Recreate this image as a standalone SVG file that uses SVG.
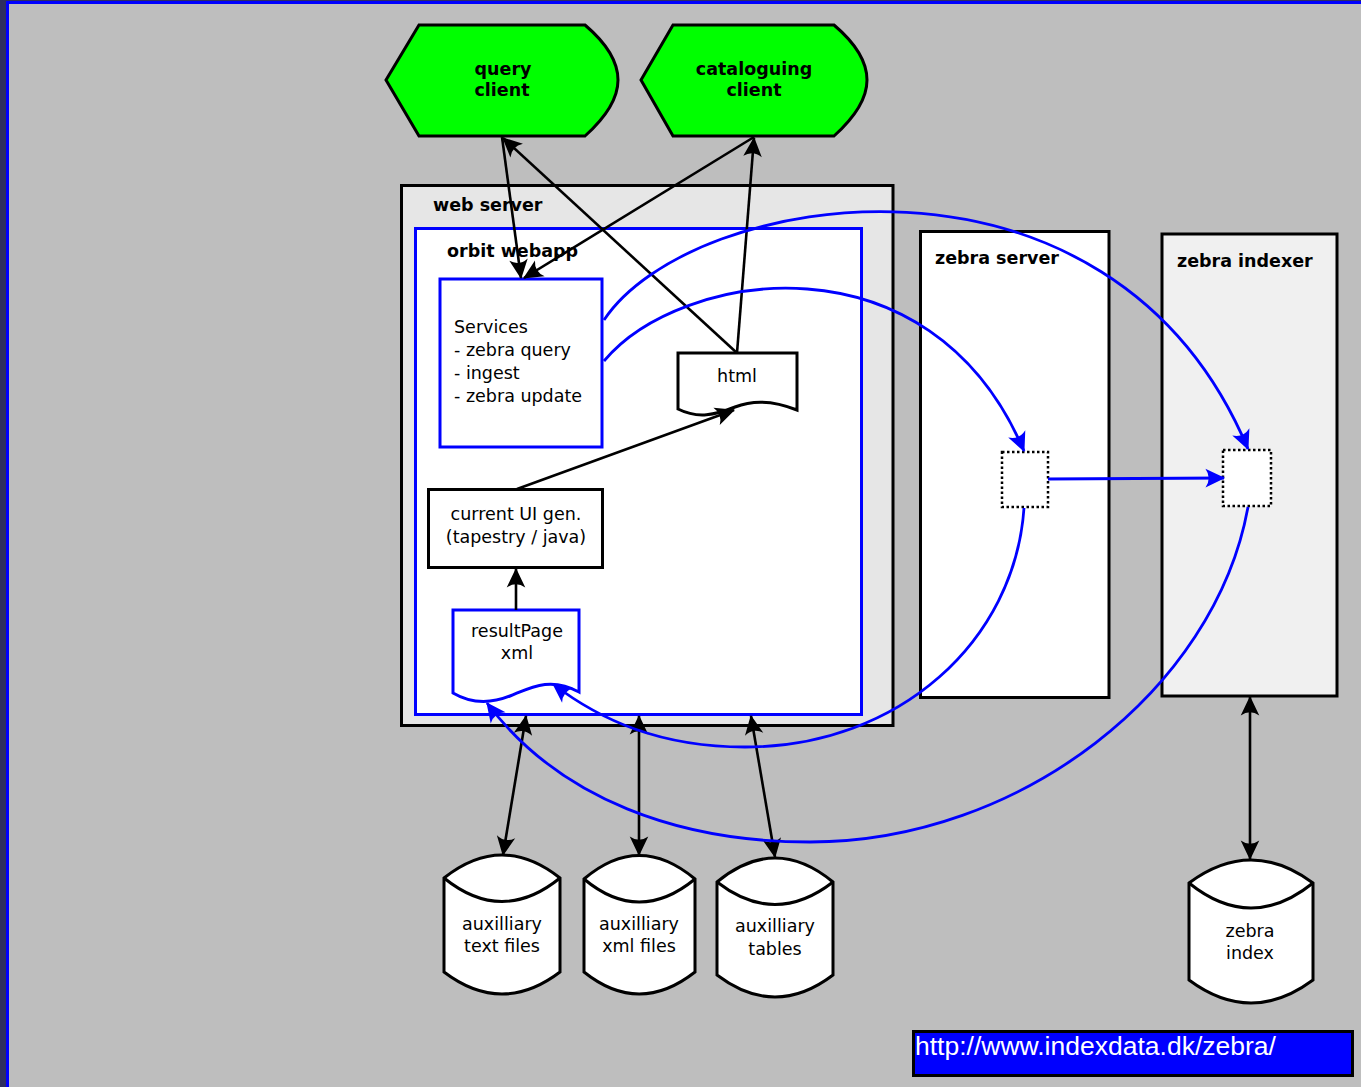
<svg xmlns="http://www.w3.org/2000/svg" width="1361" height="1087" viewBox="0 0 1361 1087">
<defs>
<style>
.lbl{font-family:"DejaVu Sans","Liberation Sans",sans-serif;font-size:17.5px;fill:#000}
.b{font-weight:bold}
.c{text-anchor:middle}
.box{stroke:#000;stroke-width:3}
.blu{stroke:#0000ff;stroke-width:3}
.k{fill:none;stroke:#000;stroke-width:2.6}
.bl{fill:none;stroke:#0000ff;stroke-width:2.8}
.dot{fill:#fff;stroke:#000;stroke-width:2.5;stroke-dasharray:2.5,2.5}
.cyl{fill:#fff;stroke:#000;stroke-width:3}
</style>
<marker id="ak" markerUnits="userSpaceOnUse" markerWidth="24" markerHeight="24" viewBox="-20 -10 22 20" refX="0" refY="0" orient="auto-start-reverse" overflow="visible">
<path d="M1,0 L-17,-8.5 Q-11,0 -17,8.5 Z" fill="#000"/>
</marker>
<marker id="ab" markerUnits="userSpaceOnUse" markerWidth="24" markerHeight="24" viewBox="-20 -10 22 20" refX="0" refY="0" orient="auto-start-reverse" overflow="visible">
<path d="M1,0 L-17,-8.5 Q-11,0 -17,8.5 Z" fill="#0000ff"/>
</marker>
</defs>

<g id="background">
<rect x="0" y="0" width="1361" height="1087" fill="#2e2e60"/>
<rect x="6" y="1" width="1355" height="1086" fill="#0000ff"/>
<rect x="9" y="4" width="1352" height="1083" fill="#bebebe"/>
</g>

<g id="web-server">
<rect class="box" x="401.5" y="185.5" width="491.5" height="540" fill="#e6e6e6"/>
<text class="lbl b" x="433" y="211">web server</text>
</g>

<g id="orbit-webapp">
<rect class="blu" x="415.5" y="228.5" width="446" height="486" fill="#fff"/>
<text class="lbl b" x="447" y="257">orbit webapp</text>
</g>

<g id="zebra-server">
<rect class="box" x="920.5" y="231.5" width="188.5" height="466" fill="#fff"/>
<text class="lbl b" x="935" y="264">zebra server</text>
</g>

<g id="zebra-indexer">
<rect class="box" x="1162" y="234" width="175" height="462" fill="#f0f0f0"/>
<text class="lbl b" x="1177" y="267">zebra indexer</text>
</g>

<g id="query-client">
<path class="box" fill="#00ff00" d="M419,25 H585 C605,42 618,60 618,80 C618,100 605,118 585,136 H419 L386,80 Z"/>
<text class="lbl b c" x="503" y="75">query</text>
<text class="lbl b c" x="502" y="96">client</text>
</g>

<g id="cataloguing-client">
<path class="box" fill="#00ff00" d="M673,25 H834 C854,42 867,60 867,80 C867,100 854,118 834,136 H673 L641,80 Z"/>
<text class="lbl b c" x="754" y="75">cataloguing</text>
<text class="lbl b c" x="754" y="96">client</text>
</g>

<g id="services">
<rect class="blu" x="440" y="279" width="162" height="168" fill="#fff"/>
<text class="lbl" x="454" y="333">Services</text>
<text class="lbl" x="454" y="356">- zebra query</text>
<text class="lbl" x="454" y="379">- ingest</text>
<text class="lbl" x="454" y="402">- zebra update</text>
</g>

<g id="html">
<path class="box" fill="#fff" d="M678,353 H797 V410 C775,401 755,399 735,407 C715,415 698,419 678,409 Z"/>
<text class="lbl c" x="737" y="382">html</text>
</g>

<g id="current-ui-gen">
<rect class="box" x="428.5" y="489.5" width="174" height="78" fill="#fff"/>
<text class="lbl c" x="516" y="520">current UI gen.</text>
<text class="lbl c" x="516" y="543">(tapestry / java)</text>
</g>

<g id="resultpage-xml">
<path class="blu" fill="#fff" d="M453,610 H579 V692 C550,676 530,688 510,696 C490,704 470,703 453,693 Z"/>
<text class="lbl c" x="517" y="637">resultPage</text>
<text class="lbl c" x="517" y="659">xml</text>
</g>

<g id="zebra-server-port">
<rect class="dot" x="1002" y="452" width="46" height="55"/>
</g>

<g id="zebra-indexer-port">
<rect class="dot" x="1223" y="450" width="48" height="56"/>
</g>

<g id="aux-text-files">
<path class="cyl" d="M444,878 Q502,832 560,878 V972 Q502,1016 444,972 Z"/>
<path class="cyl" fill="none" d="M444,878 Q502,925 560,878"/>
<text class="lbl c" x="502" y="930">auxilliary</text>
<text class="lbl c" x="502" y="952">text files</text>
</g>

<g id="aux-xml-files">
<path class="cyl" d="M584,879 Q639,832 695,879 V972 Q639,1016 584,972 Z"/>
<path class="cyl" fill="none" d="M584,879 Q639,925 695,879"/>
<text class="lbl c" x="639" y="930">auxilliary</text>
<text class="lbl c" x="639" y="952">xml files</text>
</g>

<g id="aux-tables">
<path class="cyl" d="M717,882 Q775,834 833,882 V975 Q775,1019 717,975 Z"/>
<path class="cyl" fill="none" d="M717,882 Q775,927 833,882"/>
<text class="lbl c" x="775" y="932">auxilliary</text>
<text class="lbl c" x="775" y="955">tables</text>
</g>

<g id="zebra-index">
<path class="cyl" d="M1189,883 Q1251,837 1313,883 V980 Q1251,1026 1189,980 Z"/>
<path class="cyl" fill="none" d="M1189,883 Q1251,933 1313,883"/>
<text class="lbl c" x="1250" y="937">zebra</text>
<text class="lbl c" x="1250" y="959">index</text>
</g>

<g id="link">
<rect x="913.5" y="1031.5" width="439" height="44" fill="#0000ff" stroke="#000" stroke-width="3"/>
<text x="915" y="1055" font-family="'Liberation Sans',Arial,sans-serif" font-size="26.5" fill="#fff">http://www.indexdata.dk/zebra/</text>
</g>

<g id="connectors">
<line class="k" x1="502" y1="137" x2="521" y2="278" marker-end="url(#ak)"/>
<line class="k" x1="754" y1="137" x2="524" y2="278" marker-end="url(#ak)"/>
<line class="k" x1="737" y1="353" x2="503" y2="138" marker-end="url(#ak)"/>
<line class="k" x1="737" y1="353" x2="754" y2="138" marker-end="url(#ak)"/>
<line class="k" x1="517" y1="489" x2="734" y2="410" marker-end="url(#ak)"/>
<line class="k" x1="516" y1="610" x2="516" y2="569" marker-end="url(#ak)"/>
<line class="k" x1="526" y1="716" x2="503" y2="855" marker-start="url(#ak)" marker-end="url(#ak)"/>
<line class="k" x1="639" y1="716" x2="639" y2="855" marker-start="url(#ak)" marker-end="url(#ak)"/>
<line class="k" x1="751" y1="716" x2="775" y2="857" marker-start="url(#ak)" marker-end="url(#ak)"/>
<line class="k" x1="1250" y1="697" x2="1250" y2="859" marker-start="url(#ak)" marker-end="url(#ak)"/>
<path class="bl" d="M604,320 C690,190 1110,120 1248,449" marker-end="url(#ab)"/>
<path class="bl" d="M604,361 C680,270 930,230 1024,451" marker-end="url(#ab)"/>
<path class="bl" d="M1048,479 L1224,478" marker-end="url(#ab)"/>
<path class="bl" d="M1024,508 C1015,640 900,747 745,747 C660,747 600,720 553,684" marker-end="url(#ab)"/>
<path class="bl" d="M1248,507 C1215,690 1020,842 810,842 C680,842 560,800 487,703" marker-end="url(#ab)"/>
</g>
</svg>
